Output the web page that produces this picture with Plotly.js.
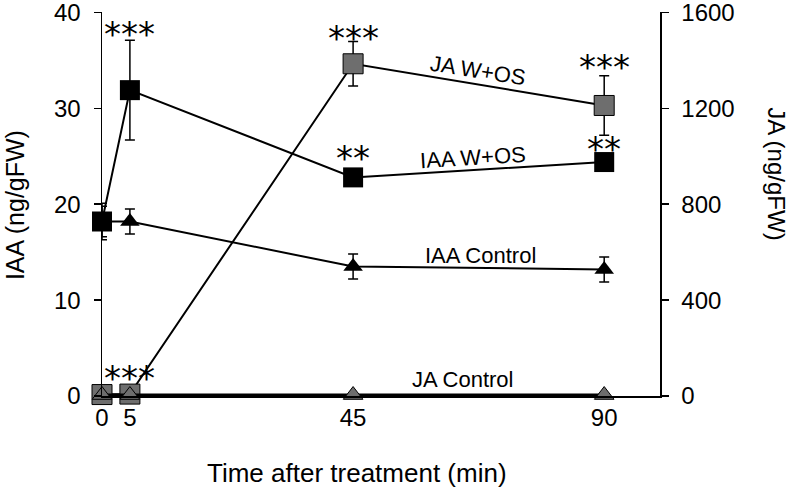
<!DOCTYPE html>
<html>
<head>
<meta charset="utf-8">
<script src="https://cdn.plot.ly/plotly-3.0.1.min.js"></script>
<style>html,body{margin:0;padding:0;background:#fff;}#chart{width:789px;height:488px;}</style>
</head>
<body>
<div id="chart"></div>
<script>
// Time points (min)
const times = [0, 5, 45, 90];

// IAA (ng/gFW), left axis
const iaaWOS = [18.2, 31.9, 22.8, 24.4];
const iaaWOSErr = [1.6, 5.2, 0.4, 0.4];
const iaaControl = [18.2, 18.2, 13.5, 13.2];
const iaaControlErr = [1.9, 1.3, 1.3, 1.3];

// JA (ng/gFW), right axis
const jaWOS = [6, 8, 1386, 1212];
const jaWOSErr = [3, 4, 93, 124];
const jaControl = [4, 4, 4, 4];
const jaControlErr = [0, 0, 0, 0];

// Significance marks: [x, y (IAA scale), text]
const starX = [5, 5, 45, 45, 90, 90];
const starY = [38.3, 2.4, 37.9, 25.3, 34.8, 26.25];
const starText = ['***', '***', '***', '**', '***', '**'];

// Series labels
const labelText = ['JA W+OS', 'IAA W+OS', 'IAA Control', 'JA Control'];
const labelX = [67.4, 66.5, 67.9, 64.7];
const labelY = [34.0, 24.9, 14.7, 1.67];
const labelAngle = [9, -3.5, 0, 0];

const grey = '#6e6e6e';
const errStyle = (arr) => ({type: 'data', array: arr, visible: true, color: '#000', thickness: 1.5, width: 5});

const traces = [
  {x: times, y: jaWOS, yaxis: 'y2', mode: 'lines+markers', cliponaxis: false,
   line: {color: '#000', width: 2},
   marker: {symbol: 'square', size: 20, color: grey, line: {color: '#000', width: 1}},
   error_y: errStyle(jaWOSErr)},
  {x: times, y: jaControl, yaxis: 'y2', mode: 'lines+markers', cliponaxis: false,
   line: {color: '#000', width: 3},
   marker: {symbol: 'triangle-up', size: 17, color: grey, line: {color: '#000', width: 1}},
   error_y: errStyle(jaControlErr)},
  {x: times, y: iaaControl, yaxis: 'y', mode: 'lines+markers', cliponaxis: false,
   line: {color: '#000', width: 2},
   marker: {symbol: 'triangle-up', size: 17, color: '#000'},
   error_y: errStyle(iaaControlErr)},
  {x: times, y: iaaWOS, yaxis: 'y', mode: 'lines+markers', cliponaxis: false,
   line: {color: '#000', width: 2},
   marker: {symbol: 'square', size: 20, color: '#000'},
   error_y: errStyle(iaaWOSErr)}
];

const font = 'Liberation Sans, Arial, sans-serif';
const annotations = [];
for (let i = 0; i < starX.length; i++) {
  annotations.push({x: starX[i], y: starY[i], xref: 'x', yref: 'y', text: starText[i],
    showarrow: false, xanchor: 'center', yanchor: 'middle', yshift: -5,
    font: {family: 'DejaVu Sans, sans-serif', size: 34, color: '#000'}});
}
for (let i = 0; i < labelText.length; i++) {
  annotations.push({x: labelX[i], y: labelY[i], xref: 'x', yref: 'y', text: labelText[i],
    showarrow: false, xanchor: 'center', yanchor: 'middle', textangle: labelAngle[i],
    font: {family: font, size: 22, color: '#000'}});
}
annotations.push({x: 0.457, y: -0.2, xref: 'paper', yref: 'paper', text: 'Time after treatment (min)',
  showarrow: false, xanchor: 'center', yanchor: 'middle', font: {family: font, size: 26, color: '#000'}});
annotations.push({x: -0.156, y: 0.497, xref: 'paper', yref: 'paper', text: 'IAA (ng/gFW)', textangle: -90,
  showarrow: false, xanchor: 'center', yanchor: 'middle', font: {family: font, size: 25, color: '#000'}});
annotations.push({x: 1.2097, y: 0.58, xref: 'paper', yref: 'paper', text: 'JA (ng/gFW)', textangle: 90,
  showarrow: false, xanchor: 'center', yanchor: 'middle', font: {family: font, size: 24, color: '#000'}});

const layout = {
  width: 789, height: 488,
  margin: {l: 102, r: 129, t: 12, b: 92},
  paper_bgcolor: '#fff', plot_bgcolor: '#fff',
  showlegend: false,
  font: {family: font, size: 24, color: '#000'},
  xaxis: {range: [0, 100], tickvals: times, ticktext: times.map(String), ticks: '',
    showline: true, linecolor: '#000', linewidth: 1.5, showgrid: false, zeroline: false,
    tickfont: {size: 24}},
  yaxis: {range: [0, 40.05], tickvals: [0, 10, 20, 30, 40], ticks: 'outside', ticklen: 7, tickwidth: 1.5,
    tickcolor: '#000', showline: true, linecolor: '#000', linewidth: 1.5, showgrid: false, zeroline: false,
    ticklabelstandoff: 8, ticklabeloverflow: 'allow', tickfont: {size: 24}},
  yaxis2: {range: [0, 1602], tickvals: [0, 400, 800, 1200, 1600], overlaying: 'y', side: 'right',
    ticks: 'outside', ticklen: 7, tickwidth: 1.5, tickcolor: '#000', showline: true, linecolor: '#000',
    linewidth: 1.5, showgrid: false, zeroline: false, ticklabelstandoff: 8, ticklabeloverflow: 'allow',
    tickfont: {size: 24}},
  annotations: annotations
};

Plotly.newPlot('chart', traces, layout, {displayModeBar: false, staticPlot: true});
</script>
</body>
</html>
